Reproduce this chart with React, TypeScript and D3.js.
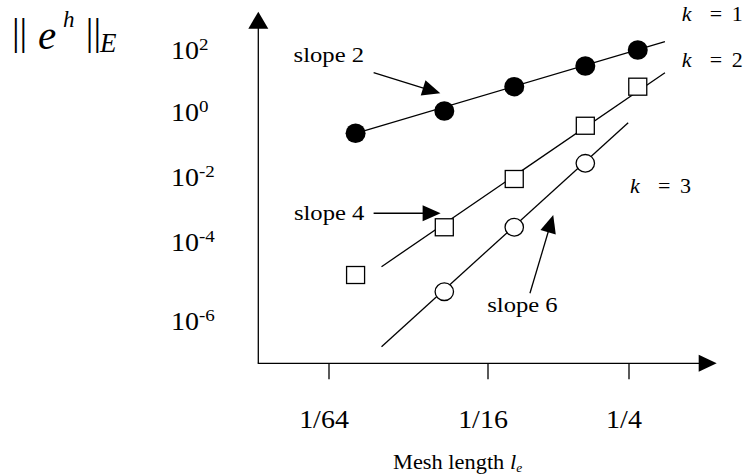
import React from "react";
import * as d3 from "d3";

// mesh length l_e (x) and energy-norm error (y)
const meshK1 = [0.0197, 0.0427, 0.0809, 0.1627, 0.2725];
const errK1 = [0.228, 1.12, 6.76, 31.3, 102];
const meshK2 = [0.0197, 0.0427, 0.0809, 0.1627, 0.2725];
const errK2 = [1.5e-5, 2.9e-4, 0.00887, 0.39, 6.76];
const meshK3 = [0.0427, 0.0809, 0.1627];
const errK3 = [5.7e-6, 2.9e-4, 0.027];

// fitted straight lines (end points)
const fitMeshK1 = [0.0197, 0.356];
const fitErrK1 = [0.228, 189];
const fitMeshK2 = [0.0247, 0.356];
const fitErrK2 = [2.43e-5, 19.0];
const fitMeshK3 = [0.0247, 0.248];
const fitErrK3 = [2.34e-7, 0.484];

const xTicks = [1 / 64, 1 / 16, 1 / 4];
const xTickLabels = ["1/64", "1/16", "1/4"];
const yTicks = [1e2, 1, 1e-2, 1e-4, 1e-6];
const yTickExponents = ["2", "0", "-2", "-4", "-6"];

const W = 748;
const H = 475;
const FONT = '"Liberation Serif", "Times New Roman", serif';
const SX = 1.12; // the original type is a little wide
const LW = 1.3;

// hand drawn axis: the tick spacing is not uniform in the original
const x = d3.scaleLog().domain([1 / 64, 1 / 16, 1 / 4]).range([329, 488, 629]);
const y = d3
  .scaleLog()
  .domain([1e-6, 1e-4, 1e-2, 1, 1e2])
  .range([321.7, 242.3, 177.3, 112.5, 50.3]);

const axisLeft = 258.3;
const axisBottom = 363.3;
const axisTop = 11.7;
const axisRight = 716.7;

const zip = (xs: number[], ys: number[]) => xs.map((v, i) => [v, ys[i]] as [number, number]);
const lineGen = d3
  .line<[number, number]>()
  .x((d) => x(d[0]))
  .y((d) => y(d[1]));

function arrowHead(tx: number, ty: number, fx: number, fy: number, len: number, half: number) {
  const dx = tx - fx;
  const dy = ty - fy;
  const l = Math.hypot(dx, dy);
  const ux = dx / l;
  const uy = dy / l;
  const bx = tx - ux * len;
  const by = ty - uy * len;
  return `${tx},${ty} ${bx - uy * half},${by + ux * half} ${bx + uy * half},${by - ux * half}`;
}

function Arrow({ x1, y1, x2, y2, len = 18, half = 8 }: any) {
  const l = Math.hypot(x2 - x1, y2 - y1);
  const ex = x2 - ((x2 - x1) / l) * (len - 2);
  const ey = y2 - ((y2 - y1) / l) * (len - 2);
  return (
    <g>
      <line x1={x1} y1={y1} x2={ex} y2={ey} stroke="#000" strokeWidth={LW} />
      <polygon points={arrowHead(x2, y2, x1, y1, len, half)} fill="#000" />
    </g>
  );
}

function WideText({ x: tx, y: ty, size, anchor = "start", children, italic = false }: any) {
  return (
    <text
      transform={`translate(${tx},${ty}) scale(${SX},1)`}
      fontFamily={FONT}
      fontSize={size}
      textAnchor={anchor}
      fontStyle={italic ? "italic" : "normal"}
      fill="#000"
    >
      {children}
    </text>
  );
}

// annotations: offsets (px) from the series point they point at
const slopeNotes = [
  { text: "slope 2", mesh: meshK1[1], err: errK1[1], tip: [-4, -17.7], tail: [-70.7, -38.3], label: [-150.7, -49.3], anchor: "start" },
  { text: "slope 4", mesh: meshK2[1], err: errK2[1], tip: [-3.7, -14], tail: [-70.7, -14], label: [-150.4, -7.3], anchor: "start" },
  { text: "slope 6", mesh: meshK3[1], err: errK3[1], tip: [39, -12.3], tail: [15.7, 66], label: [8.2, 84.4], anchor: "middle" },
];

const kLabels = [
  { k: "1", x: 681.7, y: 20.5 },
  { k: "2", x: 681.7, y: 66.7 },
  { k: "3", x: 630, y: 193.3 },
];

export default function App() {
  return (
    <svg
      width={W}
      height={H}
      style={{ position: "absolute", left: 0, top: 0, background: "#fff" }}
    >
      {/* y axis title: || e^h ||_E */}
      <g fontFamily={FONT} fill="#000">
        <text x={12} y={45.3} fontSize={38}>||</text>
        <text x={38} y={48.5} fontSize={41} fontStyle="italic">e</text>
        <text x={63} y={27} fontSize={23} fontStyle="italic">h</text>
        <text x={85.8} y={45.3} fontSize={38}>||</text>
        <text x={100} y={52.3} fontSize={27} fontStyle="italic">E</text>
      </g>

      {/* axes */}
      <line x1={axisLeft} y1={axisBottom} x2={axisLeft} y2={axisTop + 15} stroke="#000" strokeWidth={LW} />
      <polygon points={arrowHead(axisLeft, axisTop, axisLeft, axisBottom, 17, 10)} fill="#000" />
      <line x1={axisLeft - 0.6} y1={axisBottom} x2={axisRight - 15} y2={axisBottom} stroke="#000" strokeWidth={LW} />
      <polygon points={arrowHead(axisRight, axisBottom, axisLeft, axisBottom, 18, 8.5)} fill="#000" />

      {xTicks.map((t, i) => (
        <g key={xTickLabels[i]}>
          <line x1={x(t)} y1={axisBottom} x2={x(t)} y2={axisBottom + 16} stroke="#000" strokeWidth={LW} />
          <WideText x={x(t) - 5} y={428} size={25} anchor="middle">
            {xTickLabels[i]}
          </WideText>
        </g>
      ))}

      {yTicks.map((t, i) => (
        <text
          key={yTickExponents[i]}
          transform={`translate(171,${y(t) + 8.7}) scale(${SX},1)`}
          fontFamily={FONT}
          fontSize={25}
          fill="#000"
        >
          10
          <tspan fontSize={17} dy={-9.5}>
            {yTickExponents[i]}
          </tspan>
        </text>
      ))}

      {/* x axis title */}
      <text transform={`translate(393,469) scale(${SX},1)`} fontFamily={FONT} fontSize={20} fill="#000">
        Mesh length <tspan fontStyle="italic">l</tspan>
        <tspan fontStyle="italic" fontSize={12} dy={2.5}>e</tspan>
      </text>

      {/* fitted lines */}
      <path d={lineGen(zip(fitMeshK1, fitErrK1)) || ""} fill="none" stroke="#000" strokeWidth={LW} />
      <path d={lineGen(zip(fitMeshK2, fitErrK2)) || ""} fill="none" stroke="#000" strokeWidth={LW} />
      <path d={lineGen(zip(fitMeshK3, fitErrK3)) || ""} fill="none" stroke="#000" strokeWidth={LW} />

      {/* k = 1: filled circles */}
      {zip(meshK1, errK1).map(([m, e], i) => (
        <ellipse key={"k1" + i} cx={x(m)} cy={y(e)} rx={10} ry={9.8} fill="#000" />
      ))}
      {/* k = 2: open squares */}
      {zip(meshK2, errK2).map(([m, e], i) => (
        <rect key={"k2" + i} x={x(m) - 9} y={y(e) - 8.5} width={18} height={17} fill="#fff" stroke="#000" strokeWidth={LW} />
      ))}
      {/* k = 3: open circles */}
      {zip(meshK3, errK3).map(([m, e], i) => (
        <ellipse key={"k3" + i} cx={x(m)} cy={y(e)} rx={9.2} ry={8.8} fill="#fff" stroke="#000" strokeWidth={LW} />
      ))}

      {/* slope annotations */}
      {slopeNotes.map((n) => {
        const px = x(n.mesh);
        const py = y(n.err);
        return (
          <g key={n.text}>
            <Arrow x1={px + n.tail[0]} y1={py + n.tail[1]} x2={px + n.tip[0]} y2={py + n.tip[1]} />
            <WideText x={px + n.label[0]} y={py + n.label[1]} size={22} anchor={n.anchor}>
              {n.text}
            </WideText>
          </g>
        );
      })}

      {/* k labels */}
      {kLabels.map((l) => (
        <g key={l.k} fill="#000">
          <text x={l.x} y={l.y} fontFamily={FONT} fontSize={22} fontStyle="italic">k</text>
          <text x={l.x + 28} y={l.y} fontFamily={FONT} fontSize={22}>=</text>
          <text x={l.x + 50} y={l.y} fontFamily={FONT} fontSize={22}>{l.k}</text>
        </g>
      ))}
    </svg>
  );
}
